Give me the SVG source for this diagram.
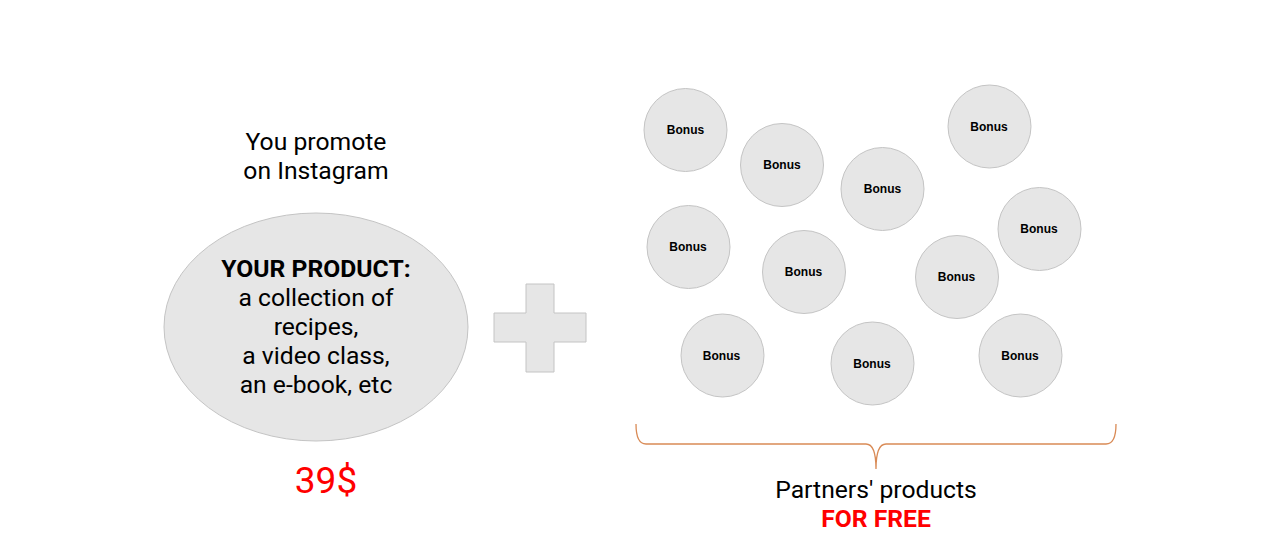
<svg xmlns="http://www.w3.org/2000/svg" width="1276" height="556" viewBox="0 0 1276 556">
<style>
.t{font-family:Roboto,"Liberation Sans",sans-serif;font-size:24.7px;fill:#000;text-anchor:middle}
.b{font-weight:bold}
.r{fill:#ff0000}
.shape{fill:#e6e6e6;stroke:#c4c4c4;stroke-width:1}
.bonus circle{fill:#e6e6e6;stroke:#c4c4c4;stroke-width:1}
.bonus text{font-family:"Liberation Sans",Arial,sans-serif;font-size:12px;font-weight:bold;text-anchor:middle;fill:#000}
</style>
<rect width="1276" height="556" fill="#fff"/>
<g id="promote">
<text class="t" x="316" y="150">You promote</text>
<text class="t" x="316" y="179">on Instagram</text>
</g>
<g id="product">
<ellipse class="shape" cx="316" cy="327" rx="152" ry="114"/>
<text class="t b" x="316" y="277">YOUR PRODUCT:</text>
<text class="t" x="316" y="306">a collection of</text>
<text class="t" x="316" y="335">recipes,</text>
<text class="t" x="316" y="364">a video class,</text>
<text class="t" x="316" y="393">an e-book, etc</text>
</g>
<g id="price">
<text class="t r" x="326" y="493" style="font-size:37px">39$</text>
</g>
<g id="plus">
<path class="shape" d="M526,284 H554 V313 H586 V342 H554 V372 H526 V342 H494 V313 H526 Z"/>
</g>
<g id="b1" class="bonus"><circle cx="685.5" cy="130" r="41.5"/><text x="685.5" y="134">Bonus</text></g>
<g id="b2" class="bonus"><circle cx="782" cy="165" r="41.5"/><text x="782" y="169">Bonus</text></g>
<g id="b3" class="bonus"><circle cx="882.5" cy="189" r="41.5"/><text x="882.5" y="193">Bonus</text></g>
<g id="b4" class="bonus"><circle cx="989.5" cy="126.5" r="41.5"/><text x="989" y="131">Bonus</text></g>
<g id="b5" class="bonus"><circle cx="688.5" cy="247" r="41.5"/><text x="688" y="251">Bonus</text></g>
<g id="b6" class="bonus"><circle cx="1039.5" cy="229" r="41.5"/><text x="1039" y="233">Bonus</text></g>
<g id="b7" class="bonus"><circle cx="804" cy="272" r="41.5"/><text x="803.5" y="276">Bonus</text></g>
<g id="b8" class="bonus"><circle cx="957" cy="277" r="41.5"/><text x="956.5" y="281">Bonus</text></g>
<g id="b9" class="bonus"><circle cx="722.5" cy="355.5" r="41.5"/><text x="721.5" y="360">Bonus</text></g>
<g id="b10" class="bonus"><circle cx="872.5" cy="363.5" r="41.5"/><text x="872" y="368">Bonus</text></g>
<g id="b11" class="bonus"><circle cx="1020.5" cy="355.5" r="41.5"/><text x="1020" y="360">Bonus</text></g>
<g id="connectors">
<path d="M636,424 Q636,444 646,444 H866 Q876,444 876,469 Q876,444 886,444 H1106 Q1116,444 1116,424" fill="none" stroke="#d98a55" stroke-width="1.3"/>
</g>
<g id="partners">
<text class="t" x="876" y="498">Partners' products</text>
<text class="t b r" x="876" y="527">FOR FREE</text>
</g>
</svg>
